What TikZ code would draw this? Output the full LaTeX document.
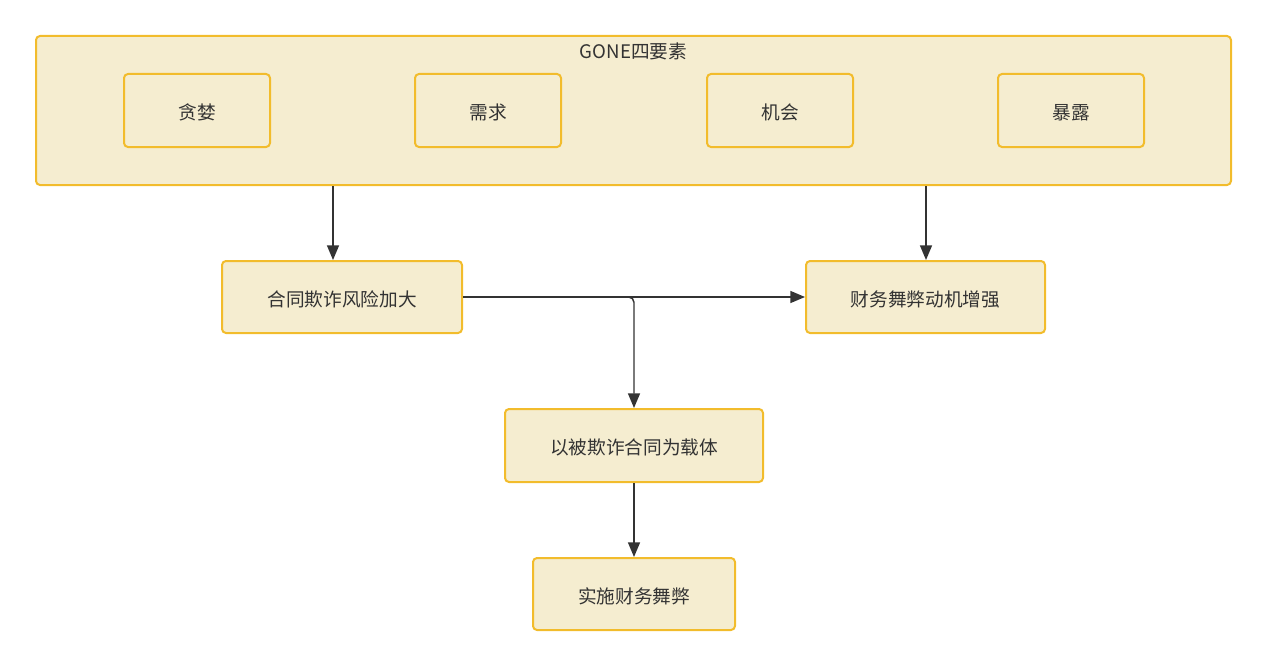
\documentclass[tikz,border=0pt]{standalone}
\usepackage{fontspec}
\setmainfont{Noto Sans CJK SC}
\usetikzlibrary{arrows.meta}
\definecolor{boxfill}{HTML}{F5EDD0}
\definecolor{boxline}{HTML}{F2BC2C}
\definecolor{ink}{HTML}{333333}
\tikzset{
  stepbox/.style={draw=boxline, fill=boxfill, line width=1.5pt, rounded corners=3pt,
    text=ink, font=\fontsize{14pt}{16pt}\selectfont, inner sep=0pt,
    text height=15pt, text depth=1.5pt},
  conn/.style={draw=ink, line width=1.1pt, -{Triangle[length=11pt,width=9pt]}}
}
\begin{document}
\begin{tikzpicture}[x=0.75pt,y=-0.75pt]
\useasboundingbox (0,0) rectangle (1268,667);
% group
\node[stepbox, minimum width=1195*0.75pt, minimum height=149*0.75pt] (grp) at (633.5,110.5) {};
\node[text=ink, font=\fontsize{14pt}{16pt}\selectfont, anchor=center] (gt) at (633.5,51) {GONE四要素};
\node[stepbox, minimum width=146*0.75pt, minimum height=73*0.75pt] (g1) at (197,110.5) {贪婪};
\node[stepbox, minimum width=146*0.75pt, minimum height=73*0.75pt] (g2) at (488,110.5) {需求};
\node[stepbox, minimum width=146*0.75pt, minimum height=73*0.75pt] (g3) at (780,110.5) {机会};
\node[stepbox, minimum width=146*0.75pt, minimum height=73*0.75pt] (g4) at (1071,110.5) {暴露};
% flow nodes
\node[stepbox, minimum width=240*0.75pt, minimum height=72*0.75pt] (a) at (342,297) {合同欺诈风险加大};
\node[stepbox, minimum width=239*0.75pt, minimum height=72*0.75pt] (b) at (925.5,297) {财务舞弊动机增强};
\node[stepbox, minimum width=258*0.75pt, minimum height=73*0.75pt] (c) at (634,445.5) {以被欺诈合同为载体};
\node[stepbox, minimum width=202*0.75pt, minimum height=72*0.75pt] (d) at (634,594) {实施财务舞弊};
% connectors
\coordinate (ga) at (333,185);
\coordinate (gb) at (926,185);
\draw[conn] (grp.south -| ga) -- (a.north -| ga);
\draw[conn] (grp.south -| gb) -- (b.north -| gb);
\draw[conn] (a.east) -- (b.west);
\draw[conn, rounded corners=4pt] (a.east) -| (c.north);
\draw[conn] (c.south) -- (d.north);
\end{tikzpicture}
\end{document}
